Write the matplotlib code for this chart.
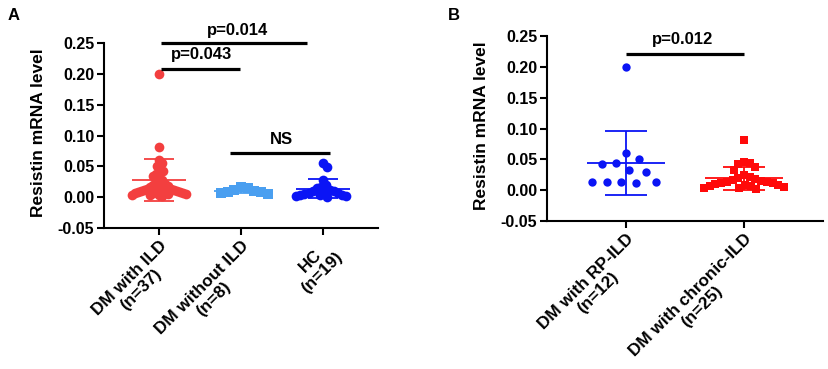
"""Resistin mRNA level scatter plots (panels A and B)."""

import numpy as np
import matplotlib

matplotlib.use("Agg")
import matplotlib.pyplot as plt

plt.rcParams["font.family"] = ["Liberation Sans", "DejaVu Sans"]
plt.rcParams["font.weight"] = "bold"
plt.rcParams["axes.unicode_minus"] = False

# ---- data, panel A ----
labels_a = ["DM with ILD\n(n=37)", "DM without ILD\n(n=8)", "HC\n(n=19)"]
dm_ild = [0.200, 0.081, 0.060, 0.055, 0.050, 0.045, 0.042, 0.038, 0.035, 0.030,
          0.028, 0.025, 0.022, 0.020, 0.018, 0.017, 0.016, 0.015, 0.014, 0.013,
          0.012, 0.012, 0.011, 0.010, 0.010, 0.009, 0.008, 0.008, 0.007, 0.006,
          0.006, 0.005, 0.005, 0.004, 0.004, 0.003, 0.002]
dm_no_ild = [0.016, 0.015, 0.012, 0.010, 0.009, 0.008, 0.006, 0.005]
hc = [0.055, 0.049, 0.028, 0.020, 0.017, 0.015, 0.012, 0.010, 0.010, 0.008,
      0.007, 0.006, 0.005, 0.004, 0.003, 0.003, 0.002, 0.002, 0.001]
means_a = [0.028, 0.010, 0.014]
sds_a = [0.034, 0.004, 0.015]

# ---- data, panel B ----
labels_b = ["DM with RP-ILD\n(n=12)", "DM with chronic-ILD\n(n=25)"]
rp_ild = [0.200, 0.061, 0.051, 0.044, 0.043, 0.033, 0.030, 0.013, 0.013,
          0.013, 0.013, 0.012]
chronic_ild = [0.081, 0.046, 0.044, 0.042, 0.038, 0.033, 0.025, 0.022, 0.020,
               0.018, 0.017, 0.015, 0.014, 0.013, 0.012, 0.011, 0.010, 0.009,
               0.008, 0.007, 0.006, 0.005, 0.004, 0.003, 0.002]
means_b = [0.044, 0.019]
sds_b = [0.052, 0.018]

yticks = [-0.05, 0.00, 0.05, 0.10, 0.15, 0.20, 0.25]


def swarm_offsets(y_px, gap, max_half):
    """Beeswarm-like horizontal offsets (px) for values given in px."""
    y_px = np.asarray(y_px, dtype=float)
    order = np.argsort(-y_px)
    placed = []
    offs = np.zeros(len(y_px))
    for i in order:
        y = y_px[i]
        cands = [0.0]
        for px, py in placed:
            dy = abs(y - py)
            if dy < gap:
                dx = np.sqrt(gap ** 2 - dy ** 2)
                cands += [px + dx, px - dx]
        cands.sort(key=abs)
        chosen = cands[-1]
        for c in cands:
            if all((c - px) ** 2 + (y - py) ** 2 >= gap ** 2 - 1e-6 for px, py in placed):
                chosen = c
                break
        placed.append((chosen, y))
        offs[i] = chosen
    m = np.abs(offs).max()
    if m > max_half:
        offs *= max_half / m
    return offs


def style_axes(ax, labels, xmax):
    ax.set_xlim(0.33, xmax)
    ax.set_ylim(-0.05, 0.25)
    ax.spines["top"].set_visible(False)
    ax.spines["right"].set_visible(False)
    ax.spines["left"].set_linewidth(1.5)
    ax.spines["bottom"].set_linewidth(1.5)
    ax.set_yticks(yticks)
    ax.set_yticklabels([f"{v:.2f}" for v in yticks], fontsize=11.5, fontweight="bold")
    ax.set_xticks(range(1, len(labels) + 1))
    ax.set_xticklabels(labels, rotation=45, ha="right", va="top", rotation_mode="anchor",
                       multialignment="center", fontsize=12.3, fontweight="bold",
                       linespacing=1.1)
    ax.tick_params(axis="both", width=1.5, length=5, pad=2, direction="out")
    ax.set_ylabel("Resistin mRNA level", fontsize=12.5, fontweight="bold")
    ax.yaxis.set_label_coords(-0.21, 0.515)


def draw_group(ax, pos, values, mean, sd, color, marker, gap, max_half, ms):
    x0, y0 = ax.transData.transform((0, 0))
    x1, y1 = ax.transData.transform((1, 1))
    xs, ys = x1 - x0, y1 - y0
    offs = swarm_offsets(np.asarray(values) * ys, gap, max_half) / xs
    ax.plot(pos + offs, values, linestyle="none", marker=marker, ms=ms,
            color=color, markeredgewidth=0, zorder=2, clip_on=False)
    lw = 1.3
    ax.hlines(mean, pos - 0.33, pos + 0.33, color=color, lw=lw, zorder=3)
    ax.vlines(pos, mean - sd, mean + sd, color=color, lw=lw, zorder=3)
    ax.hlines([mean - sd, mean + sd], pos - 0.18, pos + 0.18, color=color, lw=lw, zorder=3)


def bracket(ax, x_from, x_to, y, text, ty, tx):
    ax.plot([x_from, x_to], [y, y], color="black", lw=2.3, clip_on=False,
            solid_capstyle="butt")
    ax.text(tx, ty, text, ha="center", va="center", fontsize=12, fontweight="bold")


fig = plt.figure(figsize=(8.29, 3.69), dpi=100)
ax_a = fig.add_axes([104 / 829, 141 / 369, 274 / 829, 185 / 369])
ax_b = fig.add_axes([547 / 829, 148 / 369, 276 / 829, 185 / 369])

style_axes(ax_a, labels_a, 3.67)
style_axes(ax_b, labels_b, 2.67)

red_a = "#f33f3f"
lightblue = "#4a9ff0"
blue = "#0a14f5"
red_b = "#ff0a0a"

draw_group(ax_a, 1, dm_ild, means_a[0], sds_a[0], red_a, "o", 8, 27, 7)
draw_group(ax_a, 2, dm_no_ild, means_a[1], sds_a[1], lightblue, "s", 8, 27, 6.5)
draw_group(ax_a, 3, hc, means_a[2], sds_a[2], blue, "o", 8, 27, 7)

draw_group(ax_b, 1, rp_ild, means_b[0], sds_b[0], blue, "o", 14.5, 40, 6)
draw_group(ax_b, 2, chronic_ild, means_b[1], sds_b[1], red_b, "s", 10, 40, 6.3)

bracket(ax_a, 1.025, 2.81, 0.25, "p=0.014", 0.271, 1.96)
bracket(ax_a, 1.025, 1.99, 0.208, "p=0.043", 0.232, 1.525)
bracket(ax_a, 1.87, 3.09, 0.0714, "NS", 0.094, 2.49)

bracket(ax_b, 1.0, 2.0, 0.221, "p=0.012", 0.245, 1.48)

fig.text(8 / 829, 1 - 16 / 369, "A", fontsize=12, fontweight="bold", va="center")
fig.text(448 / 829, 1 - 16 / 369, "B", fontsize=12, fontweight="bold", va="center")

fig.savefig("out.png", dpi=100)
plt.close(fig)
